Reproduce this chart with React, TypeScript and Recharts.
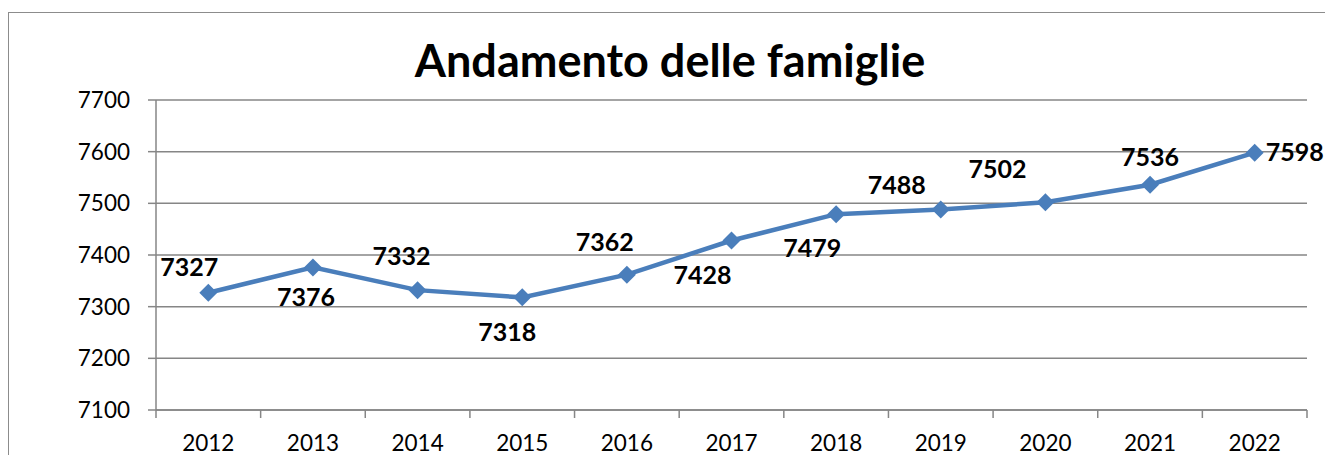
import React from "react";
import {
  LineChart,
  Line,
  XAxis,
  YAxis,
  CartesianGrid,
  LabelList,
} from "recharts";

const years = ["2012", "2013", "2014", "2015", "2016", "2017", "2018", "2019", "2020", "2021", "2022"];
const famiglie = [7327, 7376, 7332, 7318, 7362, 7428, 7479, 7488, 7502, 7536, 7598];
const yTicks = [7100, 7200, 7300, 7400, 7500, 7600, 7700];
const title = "Andamento delle famiglie";

// label placement offsets (layout only): [dx, dy] from point to label centre
const labelOffsets: [number, number][] = [
  [-19, -26],
  [-7, 30],
  [-16, -34],
  [-15, 35],
  [-22, -33],
  [-29, 34],
  [-24, 34],
  [-44, -25],
  [-48, -33],
  [0, -28],
  [40, -1],
];

const W = 1325;
const H = 455;
const PLOT_LEFT = 156;
const PLOT_RIGHT = 1307;
const STEP = (PLOT_RIGHT - PLOT_LEFT) / years.length;
const GRID = "#868686";
const BLUE = "#4a7ebb";
const FONT = "Lato, 'Open Sans', sans-serif";

const data = years.map((y, i) => ({ year: y, value: famiglie[i] }));

const XTick = (props: any) => {
  const { x, y, payload, index } = props;
  const half = STEP / 2;
  const last = index === years.length - 1;
  return (
    <g>
      <line x1={x - half} x2={x - half} y1={y} y2={y + 8} stroke={GRID} strokeWidth={1.5} />
      {last && <line x1={x + half} x2={x + half} y1={y} y2={y + 8} stroke={GRID} strokeWidth={1.5} />}
      <text x={x} y={y + 41} textAnchor="middle" fontFamily={FONT} fontSize={22.5} fill="#000">
        {payload.value}
      </text>
    </g>
  );
};

const Diamond = (props: any) => {
  const { cx, cy } = props;
  if (cx == null || cy == null) return null;
  const r = 9;
  return (
    <polygon
      points={`${cx},${cy - r} ${cx + r},${cy} ${cx},${cy + r} ${cx - r},${cy}`}
      fill={BLUE}
    />
  );
};

const DataLabel = (props: any) => {
  const { x, y, value, index } = props;
  const [dx, dy] = labelOffsets[index] || [0, -25];
  const fs = 25;
  return (
    <text
      x={x + dx}
      y={y + dy + fs * 0.36}
      textAnchor="middle"
      fontFamily={FONT}
      fontWeight="bold"
      fontSize={fs}
      fill="#000"
    >
      {value}
    </text>
  );
};

export default function App() {
  return (
    <div
      style={{
        position: "fixed",
        left: 0,
        top: 0,
        width: W,
        height: H,
        overflow: "hidden",
        background: "#fff",
      }}
    >
      <div
        style={{
          position: "absolute",
          left: 8,
          top: 12,
          width: 1400,
          height: 600,
          border: "1.5px solid #8c8c8c",
          boxSizing: "border-box",
        }}
      />
      <svg
        width={W}
        height={120}
        style={{ position: "absolute", left: 0, top: 0 }}
      >
        <text
          x={670}
          y={77}
          textAnchor="middle"
          fontFamily={FONT}
          fontWeight="bold"
          fontSize={45}
          fill="#000"
        >
          {title}
        </text>
      </svg>
      <div style={{ position: "absolute", left: 0, top: 0 }}>
        <LineChart
          width={W}
          height={H}
          data={data}
          margin={{ top: 100, right: W - PLOT_RIGHT, bottom: 0, left: 0 }}
        >
          <CartesianGrid vertical={false} stroke={GRID} strokeWidth={1.5} />
          <XAxis
            dataKey="year"
            height={45}
            interval={0}
            padding={{ left: STEP / 2, right: STEP / 2 }}
            axisLine={{ stroke: GRID, strokeWidth: 1.5 }}
            tickLine={false}
            tickSize={0}
            tickMargin={0}
            tick={<XTick />}
          />
          <YAxis
            width={PLOT_LEFT}
            domain={[7100, 7700]}
            ticks={yTicks}
            interval={0}
            axisLine={{ stroke: GRID, strokeWidth: 1.5 }}
            tickLine={{ stroke: GRID, strokeWidth: 1.5 }}
            tickSize={8}
            tickMargin={18}
            tick={{ fontFamily: FONT, fontSize: 22.5, fill: "#000" }}
          />
          <Line
            type="linear"
            dataKey="value"
            stroke={BLUE}
            strokeWidth={4.5}
            dot={<Diamond />}
            activeDot={false}
            isAnimationActive={false}
          >
            <LabelList dataKey="value" content={<DataLabel />} />
          </Line>
        </LineChart>
      </div>
    </div>
  );
}
